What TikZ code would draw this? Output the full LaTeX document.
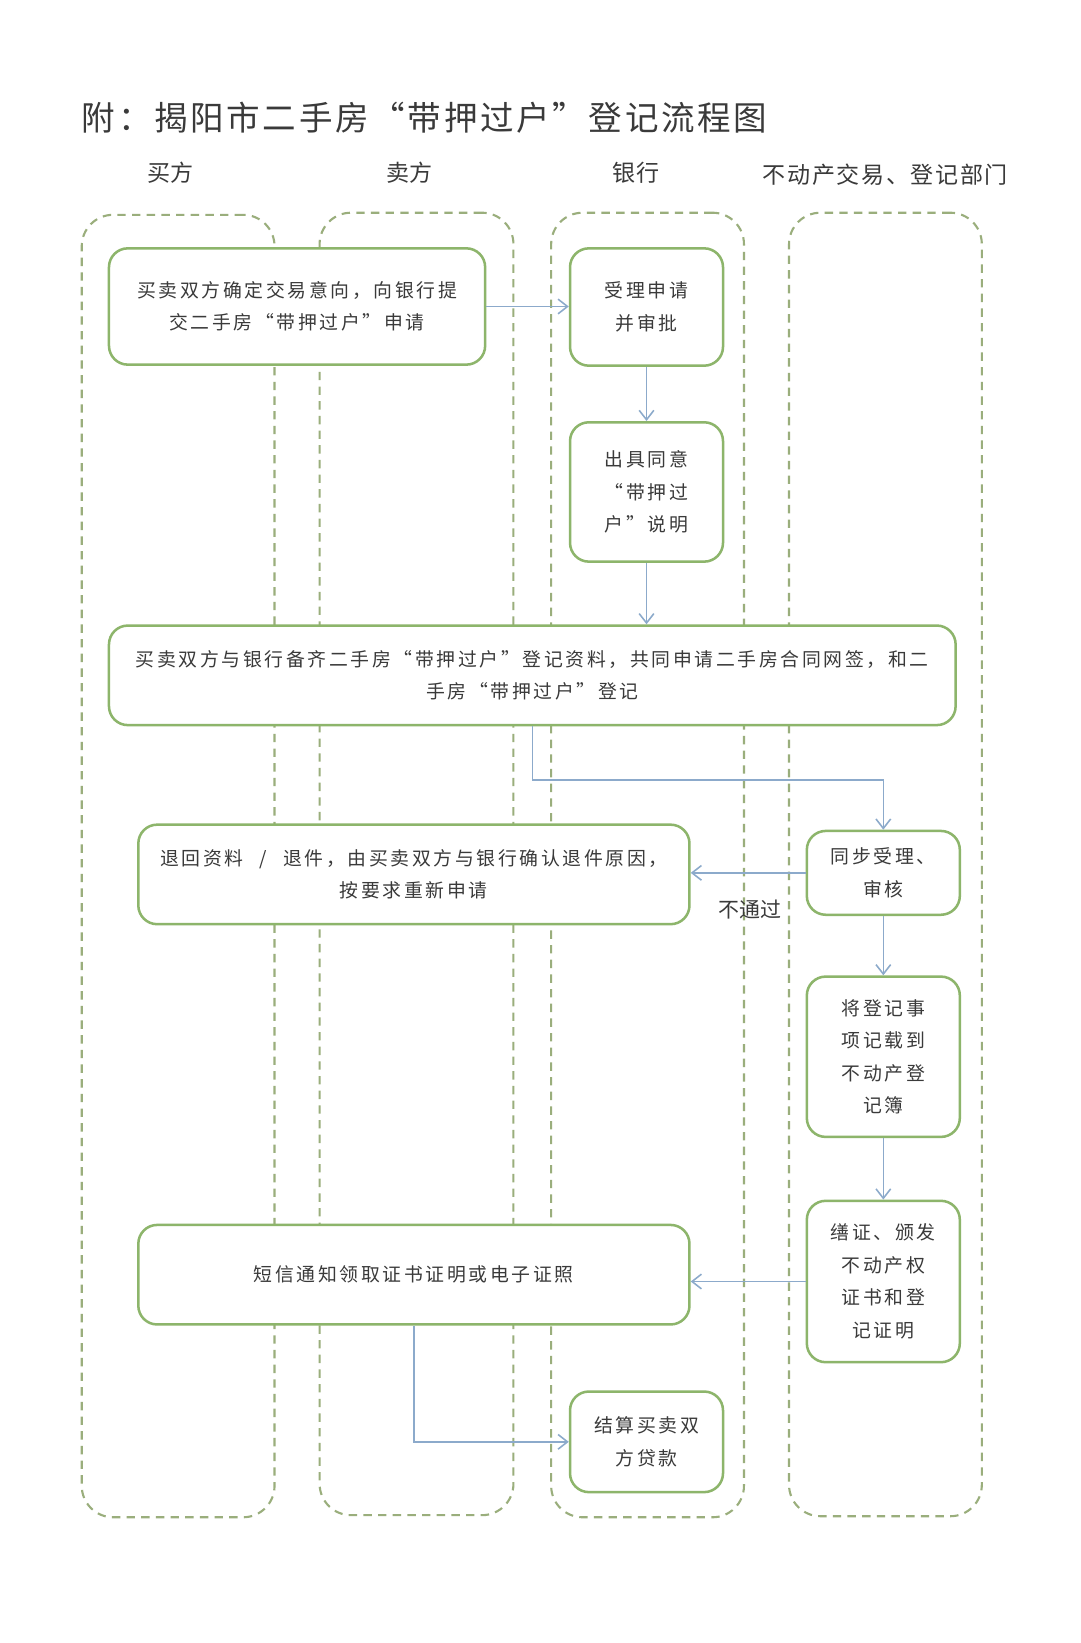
\documentclass[tikz,border=0pt]{standalone}
\usepackage{fontspec}
\setmainfont{Noto Sans CJK SC}
\usetikzlibrary{arrows.meta}
\definecolor{boxgreen}{HTML}{8DB56B}
\definecolor{lanegreen}{HTML}{9AAE7C}
\definecolor{arrblue}{HTML}{8CAACB}
\definecolor{txt}{HTML}{3A3A3A}
\tikzset{
  lane/.style={draw=lanegreen, line width=2pt, dash pattern=on 8pt off 6pt, rounded corners=30pt, rectangle, inner sep=0pt},
  stepbox/.style={draw=boxgreen, fill=white, line width=2.4pt, rounded corners=18pt, rectangle, inner sep=0pt, align=center, text=txt,
     font=\fontsize{18}{31}\selectfont\addfontfeatures{LetterSpace=14}},
  hdr/.style={text=txt, font=\fontsize{22}{26}\selectfont, inner sep=0pt},
  arr/.style={draw=arrblue, line width=1.5pt, -{Straight Barb[length=9pt,width=14pt]}}
}
\begin{document}
\begin{tikzpicture}[x=1pt,y=-1pt]
\useasboundingbox[fill=white] (0,0) rectangle (1031,1568);
% title
\node[anchor=west, text=txt, inner sep=0pt, font=\fontsize{32}{36}\selectfont\addfontfeatures{LetterSpace=8}] (title) at (78,112) {附：揭阳市二手房“带押过户”登记流程图};
% headers
\node[hdr] (h1) at (163,165) {买方};
\node[hdr] (h2) at (391,165) {卖方};
\node[hdr] (h3) at (607,165) {银行};
\node[hdr, font=\fontsize{22}{26}\selectfont\addfontfeatures{LetterSpace=7}] (h4) at (845,167) {不动产交易、登记部门};
% lanes
\node[lane, minimum width=184pt, minimum height=1243pt] (lane1) at (170,826.5) {};
\node[lane, minimum width=185pt, minimum height=1243pt] (lane2) at (397.5,824.5) {};
\node[lane, minimum width=184pt, minimum height=1245pt] (lane3) at (618,825.5) {};
\node[lane, minimum width=184pt, minimum height=1244pt] (lane4) at (845,825) {};
% boxes
\node[stepbox, minimum width=359pt, minimum height=111pt] (b1) at (283.5,292.5) {买卖双方确定交易意向，向银行提\\交二手房“带押过户”申请};
\node[stepbox, minimum width=146pt, minimum height=112pt] (b2) at (617,293) {受理申请\\并审批};
\node[stepbox, minimum width=146pt, minimum height=133pt] (b3) at (617,469.5) {出具同意\\“带押过\\户”说明};
\node[stepbox, minimum width=808pt, minimum height=95pt] (b4) at (508,644.5) {买卖双方与银行备齐二手房“带押过户”登记资料，共同申请二手房合同网签，和二\\手房“带押过户”登记};
\node[stepbox, minimum width=526pt, minimum height=95pt] (b5) at (395,834.5) {退回资料\hspace{9pt} / \hspace{9pt}退件，由买卖双方与银行确认退件原因，\\按要求重新申请};
\node[stepbox, minimum width=146pt, minimum height=80pt] (b6) at (843,833) {同步受理、\\审核};
\node[stepbox, minimum width=146pt, minimum height=153pt] (b7) at (843,1008.5) {将登记事\\项记载到\\不动产登\\记簿};
\node[stepbox, minimum width=146pt, minimum height=154pt] (b8) at (843,1223) {缮证、颁发\\不动产权\\证书和登\\记证明};
\node[stepbox, minimum width=526pt, minimum height=95pt] (b9) at (395,1216.5) {短信通知领取证书证明或电子证照};
\node[stepbox, minimum width=146pt, minimum height=96pt] (b10) at (617,1376) {结算买卖双\\方贷款};
% connectors
\draw[arr] (b1.east) -- (b1.east -| b2.west);
\draw[arr] (b2.south) -- (b3.north);
\draw[arr] (b3.south) -- (b3.south |- b4.north);
\draw[arr] (b4.south) -- ++(0,51) -| (b6.north);
\draw[arr] (b6.west) -- (b6.west -| b5.east);
\node[text=txt, inner sep=0pt, font=\fontsize{20}{24}\selectfont] (lbl) at (716,868) {不通过};
\draw[arr] (b6.south) -- (b7.north);
\draw[arr] (b7.south) -- (b8.north);
\draw[arr] (b8.west) -- (b8.west -| b9.east);
\draw[arr] (b9.south) |- (b10.west);
\end{tikzpicture}
\end{document}
